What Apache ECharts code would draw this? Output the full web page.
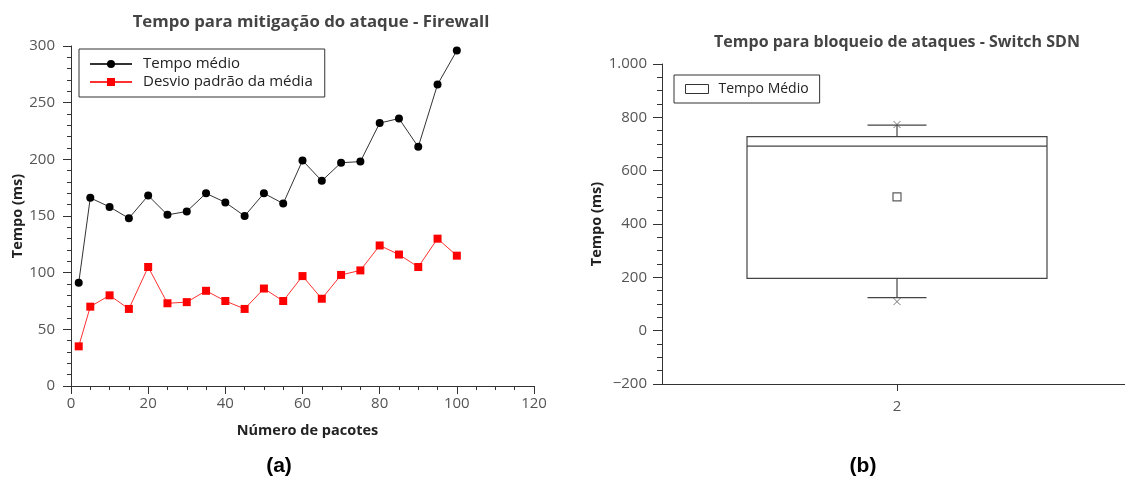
<!DOCTYPE html>
<html>
<head>
<meta charset="utf-8">
<script src="https://cdn.jsdelivr.net/npm/echarts@6/dist/echarts.min.js"></script>
<style>
html,body{margin:0;padding:0;background:#fff;}
#c{width:1125px;height:479px;}
</style>
</head>
<body>
<div id="c"></div>
<script>
// ---- data (a) ----
const packets = [2,5,10,15,20,25,30,35,40,45,50,55,60,65,70,75,80,85,90,95,100];
const tempoMedio = [91,166,158,148,168,151,154,170,162,150,170,161,199,181,197,198,232,236,211,266,296];
const desvioPadrao = [35,70,80,68,105,73,74,84,75,68,86,75,97,77,98,102,124,116,105,130,115];
// ---- data (b) ----
const boxCategories = ['2'];
const boxQ1 = [196];
const boxMedian = [692];
const boxQ3 = [728];
const whiskerLow = [124];
const whiskerHigh = [771];
const extremeLow = [109];
const extremeHigh = [773];
const boxMean = [502];

const FONT = 'Open Sans';
const chart = echarts.init(document.getElementById('c'), null, {renderer:'canvas'});

const lineMean = packets.map((p,i)=>[p, tempoMedio[i]]);
const lineStd = packets.map((p,i)=>[p, desvioPadrao[i]]);
const boxData = boxCategories.map((c,i)=>[boxQ1[i], boxQ1[i], boxMedian[i], boxQ3[i], boxQ3[i]]);
const whiskerData = boxCategories.map((c,i)=>[i, whiskerLow[i], whiskerHigh[i], boxQ1[i], boxQ3[i]]);
const extremeData = [];
boxCategories.forEach((c,i)=>{ extremeData.push([c, extremeLow[i]]); extremeData.push([c, extremeHigh[i]]); });
const meanData = boxCategories.map((c,i)=>[c, boxMean[i]]);

const tickLabel = {color:'#555', fontSize:15, fontFamily:FONT};
const axisName = {color:'#222', fontSize:14.5, fontWeight:'bold', fontFamily:FONT};
const axLine = {show:true, lineStyle:{color:'#333', width:1}};
const yFmt = function(v){
  if (v < 0) return '\u2212' + Math.abs(v);
  if (v >= 1000) return (v/1000) + '.' + String(v%1000).padStart(3,'0');
  return String(v);
};

chart.setOption({
  animation:false,
  backgroundColor:'#fff',
  graphic:[
    {type:'text', x:311, y:22, style:{text:'Tempo para mitigação do ataque - Firewall', fill:'#444', font:'bold 16.8px "Open Sans"', textAlign:'center', textVerticalAlign:'middle'}},
    {type:'text', x:897, y:42, style:{text:'Tempo para bloqueio de ataques - Switch SDN', fill:'#444', font:'bold 16px "Open Sans"', textAlign:'center', textVerticalAlign:'middle'}},
    {type:'text', x:279, y:466, style:{text:'(a)', fill:'#000', font:'bold 21px "Liberation Sans"', textAlign:'center', textVerticalAlign:'middle'}},
    {type:'text', x:863, y:466, style:{text:'(b)', fill:'#000', font:'bold 21px "Liberation Sans"', textAlign:'center', textVerticalAlign:'middle'}}
  ],
  legend:[
    {
      data:['Tempo médio','Desvio padrão da média'],
      orient:'vertical', left:79, top:49,
      padding:[6,12,6,10], itemGap:0, itemWidth:42, itemHeight:10,
      borderColor:'#333', borderWidth:1, borderRadius:0,
      textStyle:{color:'#222', fontSize:15, fontFamily:FONT, padding:[0,0,0,6], lineHeight:18},
      selectedMode:false
    },
    {
      data:[{name:'Tempo Médio', icon:'rect', itemStyle:{color:'#fff', borderColor:'#333', borderWidth:1}}],
      left:674, top:75,
      padding:[5,11,5,11], itemWidth:23, itemHeight:9,
      borderColor:'#333', borderWidth:1, borderRadius:0,
      textStyle:{color:'#222', fontSize:14, fontFamily:FONT, padding:[0,0,0,5], lineHeight:18},
      selectedMode:false
    }
  ],
  grid:[
    {left:71, right:591, top:46, bottom:93, containLabel:false},
    {left:662, right:0, top:64, bottom:95, containLabel:false},
    {left:669, right:0, top:64, bottom:95, containLabel:false}
  ],
  xAxis:[
    {
      gridIndex:0, type:'value', min:0, max:120, interval:20,
      name:'Número de pacotes', nameLocation:'middle', nameGap:37,
      nameTextStyle:Object.assign({padding:[0,0,0,10]}, axisName),
      axisLine:{show:true, onZero:false, lineStyle:{color:'#333', width:1}},
      axisTick:{show:true, inside:false, length:8, lineStyle:{color:'#333'}},
      minorTick:{show:true, splitNumber:4, length:4, lineStyle:{color:'#333'}},
      splitLine:{show:false},
      axisLabel:Object.assign({margin:10}, tickLabel)
    },
    {
      gridIndex:1, type:'category', data:boxCategories, boundaryGap:true,
      axisLine:{show:true, onZero:false, lineStyle:{color:'#333', width:1}},
      axisTick:{show:false}, axisLabel:{show:false},
      splitLine:{show:false}
    },
    {
      gridIndex:2, type:'category', data:boxCategories, boundaryGap:true,
      axisLine:{show:false, onZero:false},
      axisTick:{show:true, alignWithLabel:true, length:7, lineStyle:{color:'#333'}},
      splitLine:{show:false},
      axisLabel:Object.assign({margin:15}, tickLabel)
    }
  ],
  yAxis:[
    {
      gridIndex:0, type:'value', min:0, max:300, interval:50,
      name:'Tempo (ms)', nameLocation:'middle', nameGap:41, nameTextStyle:axisName,
      axisLine:axLine,
      axisTick:{show:true, length:8, lineStyle:{color:'#333'}},
      minorTick:{show:true, splitNumber:5, length:4, lineStyle:{color:'#333'}},
      splitLine:{show:false},
      axisLabel:Object.assign({margin:16}, tickLabel)
    },
    {
      gridIndex:1, type:'value', min:-200, max:1000, interval:200,
      name:'Tempo (ms)', nameLocation:'middle', nameGap:52, nameTextStyle:axisName,
      axisLine:axLine,
      axisTick:{show:true, length:9, lineStyle:{color:'#333'}},
      minorTick:{show:true, splitNumber:4, length:5, lineStyle:{color:'#333'}},
      splitLine:{show:false},
      axisLabel:Object.assign({margin:15, formatter:yFmt}, tickLabel)
    },
    {
      gridIndex:2, type:'value', min:-200, max:1000, interval:200, show:false,
      splitLine:{show:false}
    }
  ],
  series:[
    {
      name:'Tempo médio', type:'line', xAxisIndex:0, yAxisIndex:0, data:lineMean,
      symbol:'circle', symbolSize:8,
      lineStyle:{color:'#333', width:1}, itemStyle:{color:'#000'}
    },
    {
      name:'Desvio padrão da média', type:'line', xAxisIndex:0, yAxisIndex:0, data:lineStd,
      symbol:'rect', symbolSize:8,
      lineStyle:{color:'#ff3030', width:1}, itemStyle:{color:'#ff0000'}
    },
    {
      name:'Tempo Médio', type:'boxplot', xAxisIndex:2, yAxisIndex:2, data:boxData,
      boxWidth:[300,300],
      itemStyle:{color:'#fff', borderColor:'#444', borderWidth:1.2}
    },
    {
      name:'whiskers', type:'custom', xAxisIndex:2, yAxisIndex:2, data:whiskerData,
      renderItem:function(params, api){
        const c = api.value(0);
        const pLow = api.coord([c, api.value(1)]);
        const pHigh = api.coord([c, api.value(2)]);
        const pQ1 = api.coord([c, api.value(3)]);
        const pQ3 = api.coord([c, api.value(4)]);
        const half = 29.5;
        const st = {stroke:'#444', lineWidth:1.2};
        return {type:'group', children:[
          {type:'line', shape:{x1:pLow[0], y1:pLow[1], x2:pQ1[0], y2:pQ1[1]}, style:st},
          {type:'line', shape:{x1:pQ3[0], y1:pQ3[1], x2:pHigh[0], y2:pHigh[1]}, style:st},
          {type:'line', shape:{x1:pLow[0]-half, y1:pLow[1], x2:pLow[0]+half, y2:pLow[1]}, style:st},
          {type:'line', shape:{x1:pHigh[0]-half, y1:pHigh[1], x2:pHigh[0]+half, y2:pHigh[1]}, style:st}
        ]};
      },
      z:3
    },
    {
      name:'extremes', type:'scatter', xAxisIndex:2, yAxisIndex:2, data:extremeData,
      symbol:'path://M0,0L10,10M10,0L0,10', symbolSize:7,
      itemStyle:{color:'none', borderColor:'#555', borderWidth:1}, z:4
    },
    {
      name:'mean', type:'scatter', xAxisIndex:2, yAxisIndex:2, data:meanData,
      symbol:'rect', symbolSize:8,
      itemStyle:{color:'#fff', borderColor:'#333', borderWidth:1.2}, z:4
    }
  ]
});
</script>
</body>
</html>
